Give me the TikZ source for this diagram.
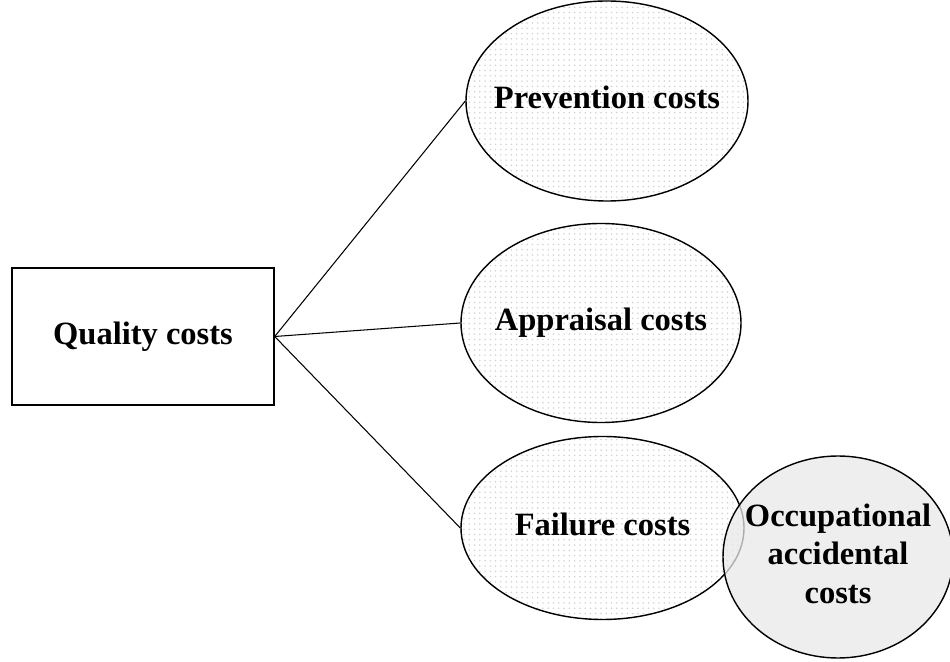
\documentclass[tikz,border=0pt]{standalone}
\usepackage{fontspec}
\setmainfont{Liberation Serif}
\usetikzlibrary{shapes.geometric}
\usetikzlibrary{patterns}

% label that does not push the ellipse wider
\newcommand{\costlabel}[1]{\makebox[0pt]{\begin{tabular}{@{}c@{}}#1\end{tabular}}}

\begin{document}
\begin{tikzpicture}
        [
        every node/.style={font=\fontsize{18.5}{22}\selectfont\bfseries,align=center},
        costbox/.style={draw,thick,rectangle,minimum width=5.24cm,minimum height=2.74cm},
        costell/.style={draw,thick,ellipse,inner sep=0pt,pattern=dots,pattern color=gray!35},
        every path/.style={semithick}
        ]
        \useasboundingbox (0,0) rectangle (19,13.22);
        \node[costbox] (q) at (2.86,6.49) {Quality costs};
        \node[costell,minimum width=5.64cm,minimum height=4.0cm] (p) at (12.14,11.2) {\costlabel{Prevention costs}};
        \node[costell,minimum width=5.6cm,minimum height=3.98cm] (a) at (12.02,6.76) {\costlabel{Appraisal costs}};
        \node[costell,minimum width=5.66cm,minimum height=3.66cm] (f) at (12.05,2.66) {\costlabel{Failure costs}};
        \node[draw,thick,ellipse,inner sep=0pt,fill=gray!18,fill opacity=0.75,text opacity=1,
              minimum width=4.6cm,minimum height=4.04cm] (o) at (16.76,2.08) {\costlabel{Occupational\\accidental\\costs}};

        \draw (q.east) -- (p.west);
        \draw (q.east) -- (a.west);
        \draw (q.east) -- (f.west);
    \end{tikzpicture}
\end{document}
